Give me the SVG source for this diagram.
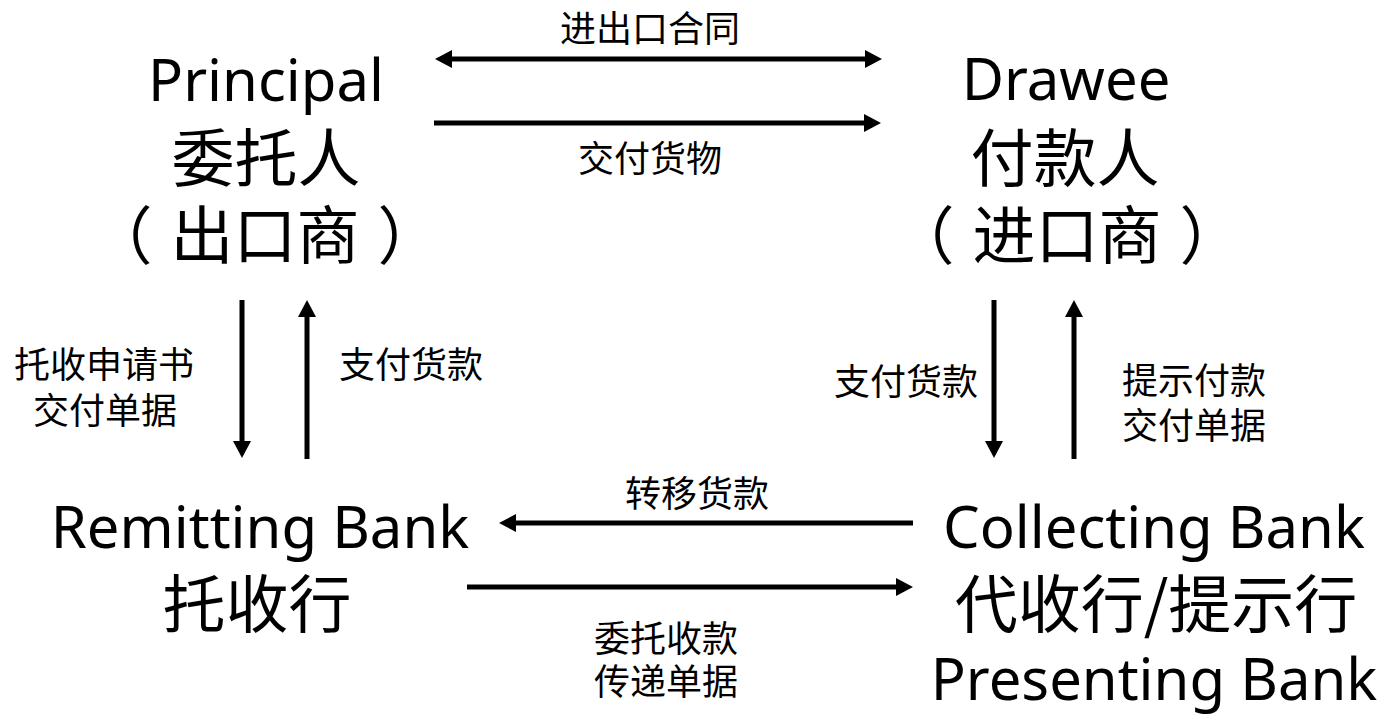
<svg xmlns="http://www.w3.org/2000/svg" width="1386" height="715" viewBox="0 0 1386 715">
<style>
.lat{font-family:"Noto Sans","Noto Sans CJK SC",sans-serif;font-size:58px;fill:#000;text-anchor:middle}
.cjk{font-family:"Noto Sans CJK SC","Noto Sans",sans-serif;font-size:63px;fill:#000;text-anchor:middle}
.lbl{font-family:"Noto Sans CJK SC","Noto Sans",sans-serif;font-size:36px;fill:#000;text-anchor:middle}
.ln{stroke:#000;stroke-width:5;fill:none;marker-end:url(#ah)}
</style>
<defs>
<marker id="ah" markerUnits="userSpaceOnUse" markerWidth="18" markerHeight="18" refX="5" refY="9" orient="auto-start-reverse" viewBox="0 0 18 18">
<path d="M0,0 L17,9 L0,18 z" fill="#000"/>
</marker>
</defs>
<rect width="1386" height="715" fill="#fff"/>
<g id="principal">
<text class="lat" x="266" y="101">Principal</text>
<text class="cjk" x="266" y="181">委托人</text>
<text class="cjk" x="265" y="258">（<tspan dx="18">出口商</tspan><tspan dx="18">）</tspan></text>
</g>
<g id="drawee">
<text class="lat" x="1066" y="100">Drawee</text>
<text class="cjk" x="1065" y="181">付款人</text>
<text class="cjk" x="1067" y="258">（<tspan dx="18">进口商</tspan><tspan dx="18">）</tspan></text>
</g>
<g id="remitting-bank">
<text class="lat" x="260" y="548">Remitting Bank</text>
<text class="cjk" x="257" y="627">托收行</text>
</g>
<g id="collecting-bank">
<text class="lat" x="1154" y="548">Collecting Bank</text>
<text class="cjk" x="1156" y="627">代收行/提示行</text>
<text class="lat" x="1154" y="700">Presenting Bank</text>
</g>
<g id="connectors">
<line class="ln" x1="447" y1="59" x2="870" y2="59" marker-start="url(#ah)"/>
<line class="ln" x1="434" y1="123" x2="869" y2="123"/>
<line class="ln" x1="242" y1="300" x2="242" y2="446"/>
<line class="ln" x1="307" y1="459" x2="307" y2="312"/>
<line class="ln" x1="994" y1="300" x2="994" y2="446"/>
<line class="ln" x1="1074" y1="459" x2="1074" y2="312"/>
<line class="ln" x1="913" y1="523" x2="511" y2="523"/>
<line class="ln" x1="467" y1="587" x2="901" y2="587"/>
</g>
<g id="labels">
<text class="lbl" x="650" y="42">进出口合同</text>
<text class="lbl" x="650" y="172">交付货物</text>
<text class="lbl" x="104" y="378">托收申请书</text>
<text class="lbl" x="105" y="424">交付单据</text>
<text class="lbl" x="411" y="378">支付货款</text>
<text class="lbl" x="906" y="395">支付货款</text>
<text class="lbl" x="1194" y="394">提示付款</text>
<text class="lbl" x="1194" y="439">交付单据</text>
<text class="lbl" x="697" y="507">转移货款</text>
<text class="lbl" x="666" y="652">委托收款</text>
<text class="lbl" x="666" y="695">传递单据</text>
</g>
</svg>
